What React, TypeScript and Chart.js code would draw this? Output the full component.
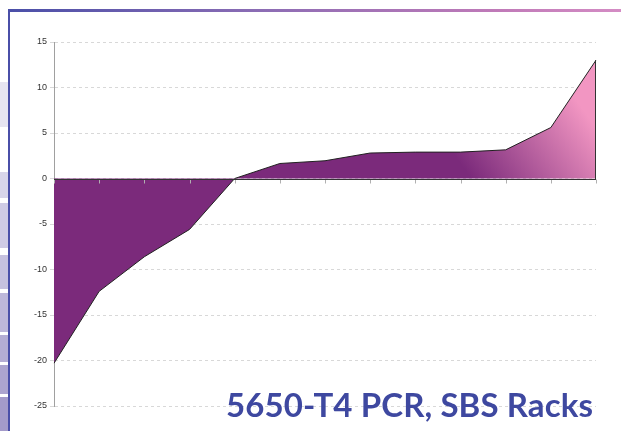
import React, { useEffect, useRef } from "react";
import { Chart, registerables } from "chart.js";

Chart.register(...registerables);

const categories = ["1", "2", "3", "4", "5", "6", "7", "8", "9", "10", "11", "12", "13"];
const seriesValues = [-20.3, -12.4, -8.6, -5.6, 0, 1.65, 1.95, 2.8, 2.9, 2.9, 3.15, 5.6, 13.0];
const yTicks = [15, 10, 5, 0, -5, -10, -15, -20, -25];
const titleText = "5650-T4 PCR, SBS Racks";

const sideBoxes: [number, number, string][] = [
  [82, 127, "#e6e4f1"],
  [172, 198, "#d8d5ea"],
  [203, 248, "#cfcbe5"],
  [255, 289, "#c6c1df"],
  [293, 332, "#bdb7da"],
  [335, 362, "#b4add4"],
  [365, 394, "#aca4cf"],
  [397, 431, "#a49bca"],
];

export default function App() {
  const canvasRef = useRef<HTMLCanvasElement | null>(null);

  useEffect(() => {
    if (!canvasRef.current) return;
    const zeroAxisPlugin = {
      id: "zeroAxis",
      afterDatasetsDraw(chart: any) {
        const { ctx, chartArea, scales } = chart;
        const y0 = Math.round(scales.y.getPixelForValue(0)) + 0.5;
        ctx.save();
        ctx.strokeStyle = "#b0b0b0";
        ctx.lineWidth = 1;
        ctx.beginPath();
        for (let i = 0; i < categories.length; i++) {
          const x = Math.round(scales.x.getPixelForValue(i)) + 0.5;
          ctx.moveTo(x, y0);
          ctx.lineTo(x, y0 + 4);
        }
        ctx.stroke();
        ctx.strokeStyle = "#333333";
        ctx.beginPath();
        ctx.moveTo(chartArea.left, y0);
        ctx.lineTo(chartArea.right, y0);
        ctx.stroke();
        const last = seriesValues.length - 1;
        const xr = Math.round(scales.x.getPixelForValue(last)) - 0.5;
        ctx.beginPath();
        ctx.moveTo(xr, y0);
        ctx.lineTo(xr, scales.y.getPixelForValue(seriesValues[last]));
        ctx.stroke();
        ctx.restore();
      },
    };

    const chart = new Chart(canvasRef.current, {
      type: "line",
      data: {
        labels: categories,
        datasets: [
          {
            data: seriesValues,
            fill: "origin",
            borderColor: "#222222",
            borderWidth: 1,
            pointRadius: 0,
            tension: 0,
            backgroundColor: (context: any) => {
              const c = context.chart;
              const area = c.chartArea;
              if (!area) return "#7b2a7b";
              const g = c.ctx.createLinearGradient(478, 188, 585, 112);
              g.addColorStop(0, "#7b2a7b");
              g.addColorStop(1, "#f296c2");
              return g;
            },
          },
        ],
      },
      options: {
        responsive: false,
        animation: false,
        layout: { padding: { left: 0, top: 42, right: 25, bottom: 25 } },
        plugins: { legend: { display: false }, tooltip: { enabled: false }, title: { display: false } },
        scales: {
          x: { type: "category", display: false, offset: false },
          y: {
            min: -25,
            max: 15,
            afterFit: (scale: any) => {
              scale.width = 54;
            },
            afterBuildTicks: (scale: any) => {
              scale.ticks = yTicks.map((v) => ({ value: v }));
            },
            ticks: {
              stepSize: 5,
              color: "#333333",
              font: { family: "Liberation Sans, Arial, sans-serif", size: 9 },
              padding: 3,
            },
            grid: {
              color: "#d8d8d8",
              lineWidth: 1,
              tickLength: 4,
              drawTicks: true,
            },
            border: { display: true, color: "#a0a0a0", width: 1, dash: [3, 3] },
          },
        },
      },
      plugins: [zeroAxisPlugin],
    });
    return () => chart.destroy();
  }, []);

  return (
    <div style={{ position: "fixed", left: 0, top: 0, width: 621, height: 431, background: "#ffffff", overflow: "hidden" }}>
      {sideBoxes.map(([t, b, c], i) => (
        <div key={i} style={{ position: "absolute", left: 0, top: t, width: 8, height: b - t, background: c }} />
      ))}
      <div style={{ position: "absolute", left: 8, top: 10, width: 2, height: 421, background: "#4a4fa8" }} />
      <div
        style={{
          position: "absolute",
          left: 8,
          top: 9,
          width: 613,
          height: 3,
          background: "linear-gradient(to right, #4a4fa8, #8a6cb4 40%, #c07ab8 80%, #d48cc4)",
        }}
      />
      <canvas ref={canvasRef} width={621} height={431} style={{ position: "absolute", left: 0, top: 0 }} />
      <div
        style={{
          position: "absolute",
          right: 28,
          top: 384,
          fontFamily: "Lato, 'Open Sans', sans-serif",
          fontWeight: 700,
          fontSize: 33,
          letterSpacing: 0.1,
          color: "#3e48a0",
          whiteSpace: "nowrap",
          lineHeight: "40px",
        }}
      >
        {titleText}
      </div>
    </div>
  );
}
